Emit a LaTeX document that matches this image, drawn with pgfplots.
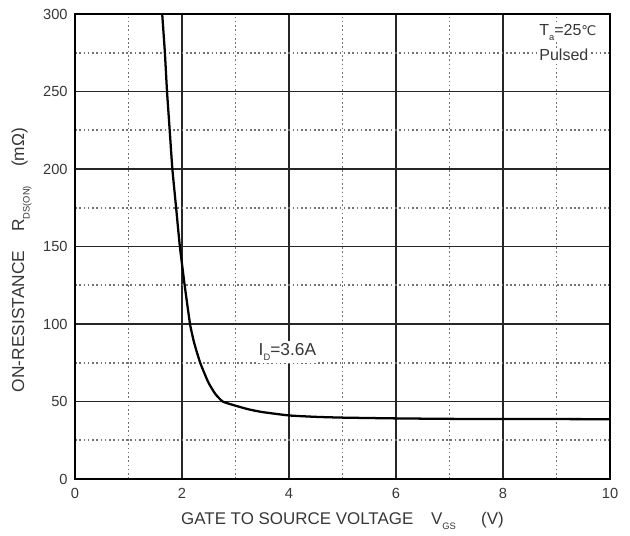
\documentclass[border=0pt]{standalone}
\usepackage{fontspec}
\setmainfont{Liberation Sans}
\newfontfamily\dejavu{DejaVu Sans}
\usepackage{pgfplots}
\pgfplotsset{compat=1.18}

\definecolor{txt}{RGB}{55,55,55}
\newcommand{\sub}[1]{\raisebox{-0.6ex}{\fontsize{7}{7}\selectfont #1}}

\begin{document}
\begin{tikzpicture}
\begin{axis}[
  scale only axis,
  width=401.25pt, height=348.75pt,
  xmin=0, xmax=10, ymin=0, ymax=300,
  xtick={0,2,...,10}, minor xtick={1,3,...,9},
  ytick={0,50,...,300}, minor ytick={25,75,...,275},
  grid=both,
  major grid style={line width=0.9pt, draw=black!85},
  minor grid style={line width=1.2pt, draw=black!55, dash pattern=on 1.2pt off 2pt},
  major tick length=0pt, minor tick length=0pt,
  axis line style={line width=1pt, black},
  ticklabel style={font=\fontsize{11}{13}\selectfont, text=txt},
  xticklabel style={yshift=-3.5pt},
  yticklabel style={xshift=-2pt},
  /pgf/number format/assume math mode=true,
  xlabel={GATE TO SOURCE VOLTAGE\hspace{1.05em}V\sub{GS}\hspace{1.5em}(V)},
  ylabel={ON-RESISTANCE\hspace{1.1em}R\sub{DS(ON)}\hspace{1.1em}(mΩ)},
  xlabel style={font=\fontsize{12.7}{14}\selectfont, text=txt,
    at={(axis description cs:0.5,-0.09)}, anchor=center},
  ylabel style={font=\fontsize{13}{15}\selectfont, text=txt,
    at={(axis description cs:-0.1,0.471)}, anchor=center},
]
\addplot [line width=1.7pt, black, smooth, tension=0.3]
table {%
1.63 300
1.68 275
1.72 250
1.77 225
1.82 200
1.89 175
1.96 150
2.05 125
2.15 100
2.23 87.5
2.34 75
2.49 62.5
2.62 55
2.76 50
3.00 47.3
3.25 44.9
3.50 43.2
4.00 41.0
4.50 40.1
5.00 39.6
6.00 39.1
7.00 38.8
8.00 38.7
10.00 38.6
};
\node [fill=white, inner sep=1.5pt, text=txt, font=\fontsize{13}{15}\selectfont]
  at (axis cs:3.97,82) {I\sub{D}=3.6A};
\node [fill=white, inner sep=1pt, anchor=west, text=txt, font=\fontsize{12}{14}\selectfont]
  at (axis cs:8.65,288) {T\sub{a}=25{\dejavu\fontsize{10}{12}\selectfont ℃}};
\node [fill=white, inner sep=1pt, anchor=west, text=txt, font=\fontsize{12}{14}\selectfont]
  at (axis cs:8.65,273.5) {Pulsed};
\end{axis}
\pgfresetboundingbox
\path[use as bounding box] (-56.25pt,-42pt) rectangle (416.25pt,359.25pt);
\end{tikzpicture}
\end{document}
